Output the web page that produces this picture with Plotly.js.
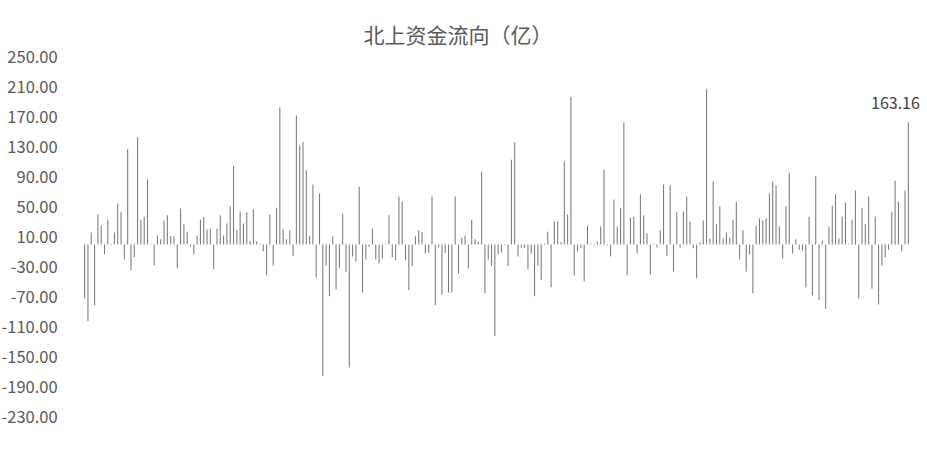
<!DOCTYPE html>
<html>
<head>
<meta charset="utf-8">
<script src="https://cdn.plot.ly/plotly-3.0.1.min.js"></script>
<style>
    body { margin: 0; background: #ffffff; }
    #chart { width: 927px; height: 453px; }
</style>
</head>
<body>
<div id="chart"></div>
<script>
// daily northbound net flow (亿)
const flowsA = [-72, -102, 16, -81, 40, 25, -13, 33, -1, 16, 55, 43, -20, 127, -34, -17, 143, 33, 37, 87,
    1, -28, 12, 7, 32, 39, 11, 11, -32, 48, 27, 17, -3, -13, 12, 33, 37, 20, 21, -33,
    21, 39, 12, 28, 51, 105, 19, 44, 28, 43];
const flowsB = [5, 47, 4, 1, -9, -41, 40, -28, 49, 183, 21, 7, 19, -15, 172, 132, 137, 99, 11, 80,
    -44, 68, -175, -28, -69, 11, -60, -31, 41, -37, -164, -16, -23, 77, -64, -20, -3, 21, -20, -25,
    -19, 1, 39, -17, -21, 64, 57, -21, -61, -29];
const flowsC = [11, 19, 17, -12, -11, 64, -81, -4, -67, -11, -64, -64, 64, -39, 9, 12, -32, 33, 7, 4,
    97, -65, -20, -28, -122, -13, -11, -1, -29, 113, 136, -16, -4, -5, -33, -12, -69, -28, -47, 1,
    17, -57, 31, 31, 3, 111, 40, 197, -41, -9];
const flowsD = [-5, -49, 25, 1, -1, 4, 24, 100, -1, -16, 60, 24, 49, 163, -41, 36, 37, -12, 67, 39,
    15, -40, 1, -4, 19, 80, -15, 79, -36, 43, -4, 44, 64, 31, -5, -45, 3, 32, 207, 8,
    84, 27, 51, 8, 16, 9, 33, 57, -20, 19];
const flowsE = [-36, -13, -65, 25, 35, 32, 35, 68, 84, 79, 24, -19, 51, 96, -12, 7, -7, -8, -57, 37,
    -68, 91, -74, 5, -86, 24, 52, 67, 8, 37, 56, 1, 33, 72, -72, 49, 27, 64, -59, 37,
    -80, -28, -17, -7, 43, 85, 57, -9, 72, 163.16];

const yTicks = [250, 210, 170, 130, 90, 50, 10, -30, -70, -110, -150, -190, -230];
const chartTitle = "北上资金流向（亿）";

function display() {
    /**
     * Draws the flow bars with the last value labelled.
     */

    let flows = flowsA.concat(flowsB, flowsC, flowsD, flowsE);

    // one category slot per trading day
    let days = [];
    for (let i = 0; i < flows.length; i++) {
        days.push(i);
    }

    let data = [{
        x: days,
        y: flows,
        type: "bar",
        hoverinfo: "skip",
        marker: {
            color: "#7a7a7a",
            line: {width: 0}
        }
    }];

    let last = flows.length - 1;

    let layout = {
        width: 927,
        height: 453,
        showlegend: false,
        paper_bgcolor: "#ffffff",
        plot_bgcolor: "#ffffff",
        margin: {l: 83, r: 17, t: 57, b: 36},
        bargap: 0.68,
        font: {family: "Noto Sans CJK SC, Noto Sans, sans-serif", color: "#595959"},
        title: {
            text: chartTitle,
            x: 458 / 927,
            xref: "container",
            xanchor: "center",
            y: 1 - 36 / 453,
            yref: "container",
            yanchor: "middle",
            font: {size: 21, color: "#595959"}
        },
        xaxis: {
            range: [-0.5, last + 0.5],
            showgrid: false,
            zeroline: false,
            showline: false,
            showticklabels: false,
            ticks: "",
            fixedrange: true
        },
        yaxis: {
            range: [-230, 250],
            tickmode: "array",
            tickvals: yTicks,
            ticktext: yTicks.map(v => v.toFixed(2)),
            showgrid: false,
            zeroline: false,
            showline: false,
            ticks: "outside",
            ticklen: 21,
            tickcolor: "rgba(0,0,0,0)",
            tickfont: {size: 16.5, color: "#595959"},
            fixedrange: true
        },
        annotations: [{
            x: last,
            y: flows[last],
            xref: "x",
            yref: "y",
            text: flows[last].toFixed(2),
            showarrow: false,
            xanchor: "right",
            yanchor: "bottom",
            xshift: 14,
            yshift: 6,
            font: {size: 16, color: "#404040"}
        }]
    };

    let config = {
        displayModeBar: false,
        staticPlot: true
    };

    Plotly.newPlot(document.getElementById("chart"), data, layout, config);
}

display();
</script>
</body>
</html>
